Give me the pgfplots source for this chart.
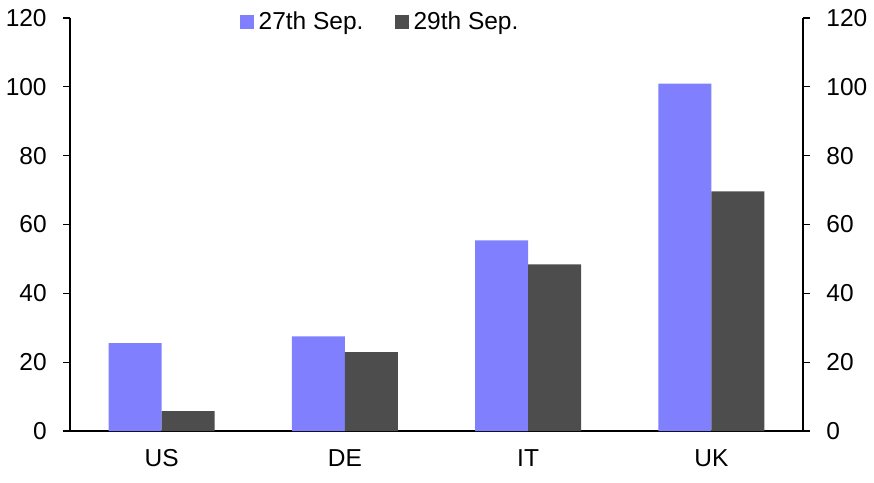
\documentclass[border=0pt]{standalone}
\usepackage{pgfplots}
\pgfplotsset{compat=1.18}
\usepackage{fontspec}
\setmainfont{Liberation Sans}
\definecolor{cblue}{HTML}{8080FF}
\definecolor{cgrey}{HTML}{4D4D4D}
\begin{document}
\fontsize{24.5}{28}\selectfont
\begin{tikzpicture}
\pgfplotsset{
  base/.style={
    scale only axis, width=733pt, height=413pt,
    xmin=-0.5, xmax=3.5, ymin=0, ymax=120,
    ytick={0,20,...,120},
    /pgf/number format/assume math mode=true,
    tick style={black, line width=1.3pt},
    major tick length=7pt,
    tick align=outside,
    axis line style={black, line width=1.5pt, -},
    ticklabel style={font=\fontsize{24.5}{28}\selectfont},
  }
}
\begin{axis}[base,
  axis x line*=bottom, axis y line*=left,
  ybar=0pt, bar width=53pt,
  xtick={0,1,2,3}, xticklabels={US,DE,IT,UK},
  x tick style={draw=none},
  minor xtick={-0.5,0.5,1.5,2.5,3.5},
  minor tick length=8pt,
  minor x tick style={black, line width=1.3pt},
  xticklabel style={yshift=-3pt},
  yticklabel style={xshift=-8pt},
  legend style={draw=none, fill=none, at={(0.423,0.99)}, anchor=center,
    legend columns=2, font=\fontsize{24.5}{28}\selectfont,
    /tikz/every even column/.append style={column sep=29pt}},
  legend image code/.code={\fill[#1] (0pt,-6.5pt) rectangle (14pt,7.5pt); \path (17pt,0pt);},
]
\addplot[fill=cblue, draw=none] coordinates {(0,25.5) (1,27.5) (2,55.4) (3,100.9)};
\addplot[fill=cgrey, draw=none] coordinates {(0,5.8) (1,22.9) (2,48.4) (3,69.6)};
\legend{27th Sep.,29th Sep.}
\end{axis}
\begin{axis}[base,
  axis x line=none, axis y line*=right,
  yticklabel style={xshift=8pt},
]
\end{axis}
\pgfresetboundingbox
\useasboundingbox (current axis.south west) ++(-70pt,-51pt) rectangle ++(874pt,482pt);
\end{tikzpicture}
\end{document}
